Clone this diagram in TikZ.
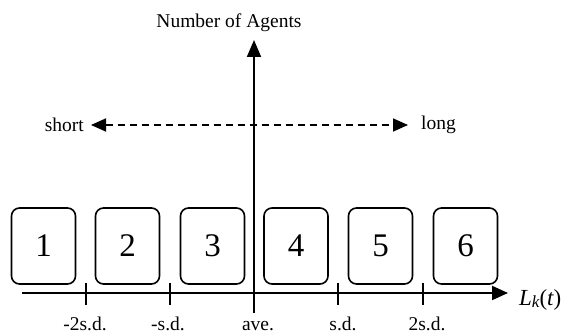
\documentclass[tikz,border=0pt]{standalone}
\usepackage{fontspec}
\setmainfont{Liberation Serif}
\usetikzlibrary{arrows.meta,calc}
\begin{document}
\begin{tikzpicture}[x=1pt,y=-1pt,
  agbox/.style={draw,line width=1.6pt,rounded corners=8pt,minimum width=64pt,minimum height=76pt,inner sep=0pt,font=\fontsize{33}{33}\selectfont},
  axis/.style={line width=2pt},
  lbl/.style={font=\fontsize{19.5}{19.5}\selectfont,inner sep=0pt},
  tlbl/.style={lbl,anchor=base},
  tick/.style={line width=1.6pt}]
\useasboundingbox (0,0) rectangle (570,336);
% boxes
\node[agbox] (b1) at (43.5,246) {1};
\node[agbox] (b2) at (127.5,246) {2};
\node[agbox] (b3) at (212.5,246) {3};
\node[agbox] (b4) at (296,246) {4};
\node[agbox] (b5) at (380.5,246) {5};
\node[agbox] (b6) at (465.5,246) {6};
% vertical axis
\coordinate (vbot) at (254,313);
\coordinate (vtop) at (254,40);
\draw[axis,-{Triangle[length=17pt,width=14pt]}] (vbot) -- (vtop);
\node[lbl] (nagents) at (229,23) {Number of Agents};
% horizontal axis
\coordinate (hl) at (22,293);
\coordinate (hr) at (508,293);
\draw[axis,-{Triangle[length=16pt,width=14pt]}] (hl) -- (hr);
\node[lbl,anchor=west,font=\fontsize{23}{23}\selectfont] (lk) at (519,300) {\itshape L\raisebox{-1.5pt}{\fontsize{17}{17}\selectfont k}\upshape(\itshape t\upshape)};
% ticks
\foreach \n/\x in {t1/86,t2/170,t4/338,t5/423}{
  \coordinate (\n a) at (\x,283);
  \coordinate (\n b) at (\x,305);
  \draw[tick] (\n a) -- (\n b);
}
\node[tlbl] (l1) at (85,331) {-2s.d.};
\node[tlbl] (l2) at (168,331) {-s.d.};
\node[tlbl] (l3) at (258,331) {ave.};
\node[tlbl] (l4) at (343,331) {s.d.};
\node[tlbl] (l5) at (427,331) {2s.d.};
% short / long
\node[lbl,anchor=east] (short) at (84,125) {short};
\node[lbl,anchor=west] (long) at (421,125) {long};
\coordinate (sa) at ($(short.east)+(7,0)$);
\coordinate (la) at ($(long.west)+(-13,0)$);
\draw[line width=1.7pt,dash pattern=on 7pt off 5pt,{Triangle[length=15pt,width=13pt]}-{Triangle[length=15pt,width=13pt]}] (sa) -- (la);
\end{tikzpicture}
\end{document}
